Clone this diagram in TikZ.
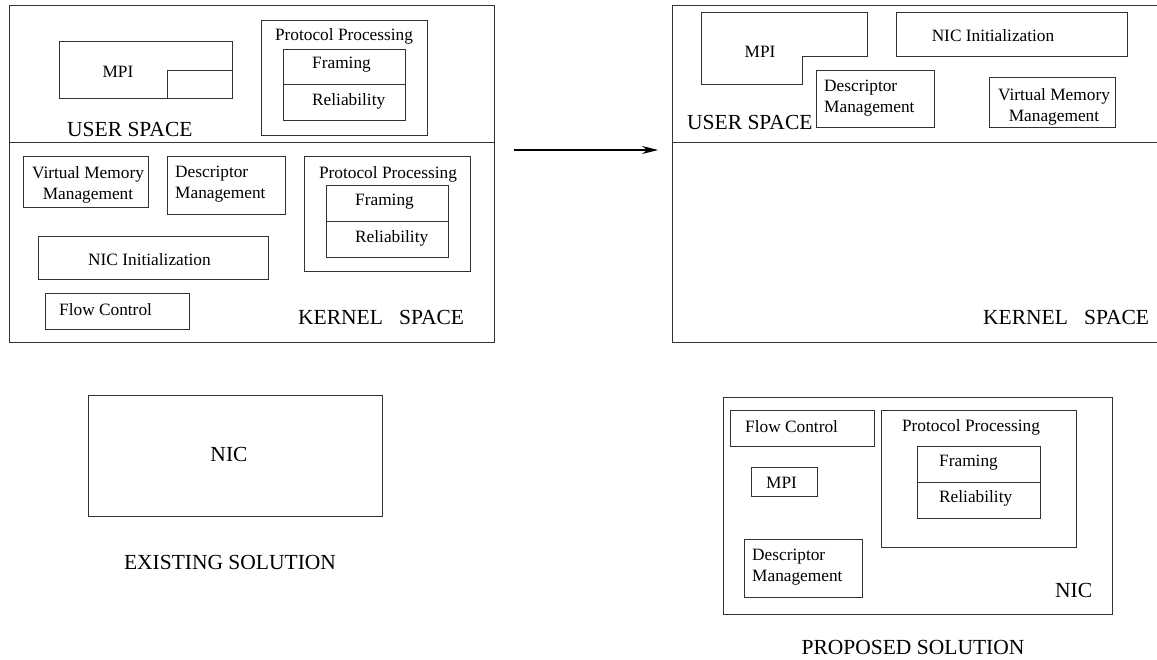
\documentclass[tikz,border=0pt]{standalone}
\usepackage{fontspec}
\setmainfont{Liberation Serif}
\usetikzlibrary{arrows.meta}
\tikzset{
  box/.style={draw=black!80, line width=1pt, inner sep=0pt, outer sep=0pt},
  sm/.style={inner sep=0pt, font=\fontsize{17.3}{21}\selectfont},
  big/.style={inner sep=0pt, font=\fontsize{21.5}{25}\selectfont},
  conn/.style={draw=black, line width=1.2pt, -{Stealth[length=16pt,width=8pt]}},
}
\begin{document}
\begin{tikzpicture}[x=1pt,y=-1pt]
\useasboundingbox (0,0) rectangle (1157,660);
% ---------------- LEFT: existing ----------------
\node[box, minimum width=485, minimum height=337] (lbox) at (251.5,174.5) {};
\draw[draw=black!80, line width=1pt] (lbox.west |- 0,143) -- (lbox.east |- 0,143);
% MPI user
\node[box, minimum width=173, minimum height=57] (lmpi) at (145.5,70.5) {};
\node[box, minimum width=65, minimum height=28] (lmpiin) at (199.5,85) {};
\node[sm] (lmpit) at (118,72) {MPI};
% Protocol processing user
\node[box, minimum width=166, minimum height=115] (lppu) at (344,78.5) {};
\node[sm] (lpput) at (344,36) {Protocol Processing};
\node[box, minimum width=122, minimum height=35] (lfru) at (344,67.5) {};
\node[box, minimum width=122, minimum height=36] (lreu) at (344,103) {};
\node[sm, anchor=west] (lfrut) at (312,65) {Framing};
\node[sm, anchor=west] (lreut) at (312,101) {Reliability};
\node[big, anchor=west] (lus) at (67,129) {USER SPACE};
% kernel
\node[box, minimum width=125, minimum height=51] (lvmm) at (85.5,182.5) {};
\node[sm, align=center] (lvmmt) at (88,184.5) {Virtual Memory\\ Management};
\node[box, minimum width=118, minimum height=58] (ldesc) at (226,186) {};
\node[sm, align=left, anchor=west] (ldesct) at (175,184.5) {Descriptor\\Management};
\node[box, minimum width=166, minimum height=115] (lppk) at (387,214.5) {};
\node[sm] (lppkt) at (388,174) {Protocol Processing};
\node[box, minimum width=122, minimum height=36] (lfrk) at (387,204) {};
\node[box, minimum width=122, minimum height=36] (lrek) at (387,240) {};
\node[sm, anchor=west] (lfrkt) at (355,202) {Framing};
\node[sm, anchor=west] (lrekt) at (355,238) {Reliability};
\node[box, minimum width=230, minimum height=43] (lnici) at (153,258.5) {};
\node[sm] (lnicit) at (149.5,260) {NIC Initialization};
\node[box, minimum width=144, minimum height=36] (lflow) at (117,312) {};
\node[sm, anchor=west] (lflowt) at (59,310) {Flow Control};
\node[big, anchor=west] (lks) at (298,317) {KERNEL\ \ \ SPACE};
% NIC existing
\node[box, minimum width=294, minimum height=121] (lnic) at (235,455.5) {};
\node[big] (lnict) at (229,454) {NIC};
\node[big] (exist) at (230,562) {EXISTING SOLUTION};
% ---------------- arrow ----------------
\coordinate (arrS) at (514,150);
\coordinate (arrE) at (658,150);
\draw[conn] (arrS) -- (arrE);
% ---------------- RIGHT: proposed ----------------
\node[box, minimum width=488, minimum height=337] (rbox) at (916,174.5) {};
\draw[draw=black!80, line width=1pt] (rbox.west |- 0,143) -- (rbox.east |- 0,143);
\draw[draw=black!80, line width=1pt] (701,13) -- (867,13) -- (867,57) -- (802,57) -- (802,85) -- (701,85) -- cycle;
\node[sm] (rmpit) at (760,52) {MPI};
\node[box, minimum width=231, minimum height=44] (rnici) at (1011.5,35) {};
\node[sm] (rnicit) at (993,36) {NIC Initialization};
\node[box, minimum width=118, minimum height=57] (rdesc) at (875,99.5) {};
\node[sm, align=left, anchor=west] (rdesct) at (824,98) {Descriptor\\Management};
\node[box, minimum width=126, minimum height=50] (rvmm) at (1052,103) {};
\node[sm, align=center] (rvmmt) at (1054,106.5) {Virtual Memory\\ Management};
\node[big, anchor=west] (rus) at (687,122) {USER SPACE};
\node[big, anchor=west] (rks) at (983,317) {KERNEL\ \ \ SPACE};
% NIC proposed
\node[box, minimum width=389, minimum height=217] (rnic) at (917.5,505.5) {};
\node[big, anchor=west] (rnict) at (1055,590) {NIC};
\node[box, minimum width=144, minimum height=36] (rflow) at (802,428) {};
\node[sm, anchor=west] (rflowt) at (745,427) {Flow Control};
\node[box, minimum width=66, minimum height=29] (rmpi) at (784,481.5) {};
\node[sm] (rmpit2) at (781.5,483) {MPI};
\node[box, minimum width=118, minimum height=58] (rdesc2) at (803,568) {};
\node[sm, align=left, anchor=west] (rdesc2t) at (752,567) {Descriptor\\Management};
\node[box, minimum width=195, minimum height=137] (rpp) at (978.5,478.5) {};
\node[sm] (rppt) at (971,427) {Protocol Processing};
\node[box, minimum width=123, minimum height=36] (rfr) at (978.5,464) {};
\node[box, minimum width=123, minimum height=36] (rre) at (978.5,500) {};
\node[sm, anchor=west] (rfrt) at (939,463) {Framing};
\node[sm, anchor=west] (rret) at (939,498) {Reliability};
\node[big] (prop) at (913,647) {PROPOSED SOLUTION};
\end{tikzpicture}
\end{document}
